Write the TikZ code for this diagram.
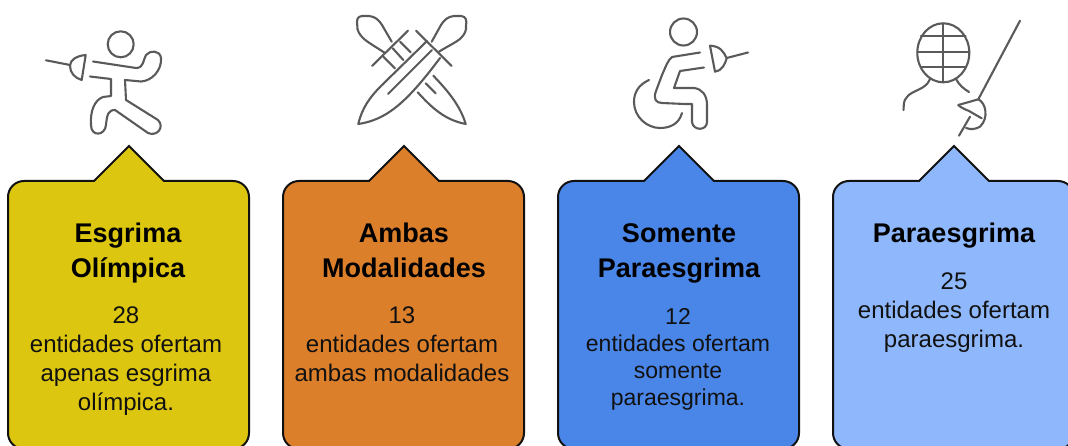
\documentclass[tikz,border=0pt]{standalone}
\usepackage{fontspec}
\setmainfont{Liberation Sans}
\definecolor{cardA}{HTML}{DDC60F}
\definecolor{cardB}{HTML}{DC7F2B}
\definecolor{cardC}{HTML}{4A86E8}
\definecolor{cardD}{HTML}{8FB8FC}
\definecolor{iconc}{HTML}{5A5A5A}
\definecolor{inkc}{HTML}{111111}
\tikzset{
 cardshape/.style={draw=inkc,line width=2pt,line join=miter},
 icon/.style={draw=iconc,line width=2.1pt,line cap=round,line join=round},
 headtxt/.style={font=\bfseries\fontsize{27}{35}\selectfont,align=center,text=black,inner sep=0pt},
 bodytxt/.style={font=\fontsize{24}{29}\selectfont,align=center,text=inkc,inner sep=0pt},
 bodysmall/.style={font=\fontsize{23}{27}\selectfont,align=center,text=inkc,inner sep=0pt},
}
\newcommand{\cardpath}[4]{% left, right, apex x, colour
 \draw[cardshape,fill=#4] (#1,433) -- (#1,197) arc[start angle=180,end angle=270,radius=16] -- (#3-35,181) -- (#3,146) -- (#3+35,181) -- (#2-16,181) arc[start angle=270,end angle=360,radius=16] -- (#2,433) arc[start angle=0,end angle=90,radius=16] -- (#1+16,449) arc[start angle=90,end angle=180,radius=16] -- cycle;
}
\begin{document}
\begin{tikzpicture}[x=1pt,y=-1pt]
\useasboundingbox (0,0) rectangle (1068,446);
\clip (0,0) rectangle (1068,446);
\cardpath{8}{249}{129}{cardA}
\cardpath{283}{524}{404}{cardB}
\cardpath{558}{799}{679}{cardC}
\cardpath{833}{1074}{954}{cardD}

\node[headtxt] (h1) at (128,253.5) {Esgrima\\Olímpica};
\node[headtxt] (h2) at (424,250.5) [xshift=-20pt] {Ambas\\Modalidades};
\node[headtxt] (h3) at (679,253.5) {Somente\\Paraesgrima};
\node[headtxt] (h4) at (954,236) {Paraesgrima};
\node[bodytxt] (b1) at (126,361) {28\\entidades ofertam\\apenas esgrima\\olímpica.};
\node[bodytxt] (b2) at (402,344) {13\\entidades ofertam\\ambas modalidades};
\node[bodysmall] (b3) at (678,359.5) {12\\entidades ofertam\\somente\\paraesgrima.};
\node[bodytxt] (b4) at (954,313) {25\\entidades ofertam\\paraesgrima.};

% icon 1
\draw[icon] (120.7,44.3) circle[radius=13];
\draw[icon] (46,60.3) -- (70,65);
\draw[icon] (85.7,55) .. controls (76,56) and (70,60) .. (70,66) .. controls (70,73) and (75,78) .. (81.7,80) -- cycle;
\draw[icon] (93,61.5) -- (136,68) .. controls (144,68) and (143,60) .. (146,55) .. controls (150,50) and (160,50) .. (161,58) .. controls (162,70) and (152,81) .. (141,81.5) -- (125,80) -- (126,100) -- (158,120) .. controls (165,127) and (157,137) .. (148,133) -- (115,110) .. controls (108,110) and (107,115) .. (106,125) .. controls (105,136) and (91,137) .. (91,125) .. controls (90,110) and (95,100) .. (103,97) -- (111,96) -- (111,79) -- (90,76.5);

% icon 2
\draw[icon] (439,51.7) .. controls (448,46) and (457,42) .. (461,38) .. controls (465,34) and (466.5,30) .. (466,26) .. controls (467,20) and (466,16.5) .. (461,16) -- (454,16) .. controls (448,16.5) and (444,20) .. (441,25) -- (431.7,41.7);
\draw[icon] (427,41) -- (381,86) .. controls (370,97) and (362,108) .. (358.3,124) .. controls (385,120) and (405,105) .. (440,58);
\draw[icon] (388,94) -- (432,50);
\draw[icon] (416,30.7) -- (451.7,66);
\draw[icon] (385,53) .. controls (376,47) and (367,42) .. (363,38) .. controls (359,34) and (357,30) .. (357.3,26) .. controls (356.5,20) and (357,16.5) .. (362,16) -- (369,16) .. controls (375,16.5) and (379,20) .. (382,25) -- (391.7,41.7);
\draw[icon] (408,30.7) -- (372,66);
\draw[icon] (400,41.7) -- (410.7,52.3);
\draw[icon] (392.7,48.3) -- (403.3,60);
\draw[icon] (383.3,56.7) -- (395,68.3);
\draw[icon] (433.3,75.7) .. controls (447,90) and (460,105) .. (465.7,124) .. controls (445,120) and (432,108) .. (417.7,92.3);
\draw[icon] (425.7,83.3) -- (435.7,93.3);

% icon 3
\draw[icon] (683.5,32) circle[radius=13.5];
\draw[icon] (700,52.5) -- (672,57) .. controls (668,60) and (666,66) .. (662,75) -- (656,91) .. controls (653,99) and (656,103) .. (662,103) -- (685,104) -- (692,104) -- (692,122) .. controls (693,131) and (707,131) .. (707,122) -- (707,105) .. controls (707,95) and (702,89) .. (694,88) -- (674,88) -- (680,71) -- (704,67.5);
\draw[icon] (649,80) .. controls (638,85) and (634,93) .. (634,102) .. controls (634,117) and (647,128) .. (660,128) .. controls (670,128) and (679,124) .. (682,113);
\draw[icon] (710,45.7) .. controls (720,46) and (724,52) .. (726.7,58.3) .. controls (725,64) and (722,71) .. (715,71.7) -- cycle;
\draw[icon] (726.7,58) -- (748,52.5);

% icon 4
\draw[icon] (943.3,52.8) ellipse[x radius=26,y radius=29.5];
\draw[icon] (943.3,23.3) -- (943.3,82.3);
\draw[icon] (921,36) -- (965.5,36);
\draw[icon] (917.3,51.7) -- (969.3,51.7);
\draw[icon] (921,67.3) -- (965.5,67.3);
\draw[icon] (930,79) .. controls (926,90) and (912,90) .. (907,97) .. controls (903,101) and (904,105) .. (903.5,110);
\draw[icon] (956,79) .. controls (959,85) and (964,89) .. (969,92);
\draw[icon] (1020,20.7) -- (978.3,99.3);
\draw[icon] (958.3,105) -- (978.3,99.3) .. controls (986,103) and (989,118) .. (980,126.7) .. controls (976,129) and (971,130) .. (966,128);
\draw[icon] (958.3,105) .. controls (960,107) and (964,109) .. (969,111) -- (981.7,118.3);
\draw[icon] (970,116.7) -- (959,135.7);
\end{tikzpicture}
\end{document}
